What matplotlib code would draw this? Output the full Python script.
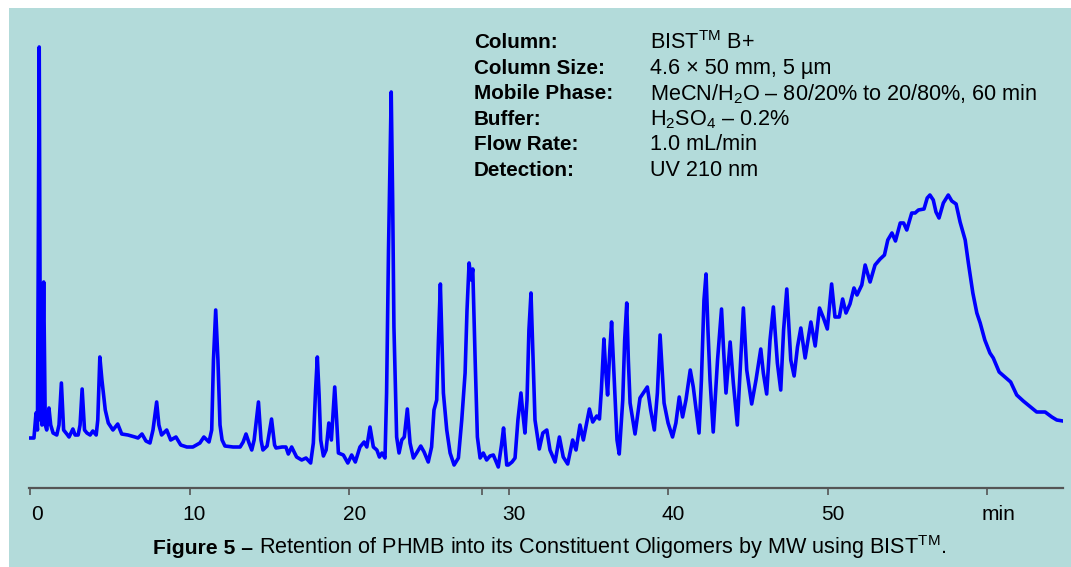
import matplotlib
matplotlib.use("Agg")
import matplotlib.pyplot as plt
from matplotlib.patches import Rectangle
from matplotlib.transforms import ScaledTranslation

plt.rcParams['font.family'] = ['Liberation Sans', 'DejaVu Sans']
plt.rcParams['mathtext.fontset'] = 'custom'
plt.rcParams['mathtext.rm'] = 'Liberation Sans'
plt.rcParams['mathtext.it'] = 'Liberation Sans'
plt.rcParams['mathtext.bf'] = 'Liberation Sans:bold'
plt.rcParams['mathtext.default'] = 'regular'

# ---- data: retention time (min) and detector signal (arbitrary units) ----
time_min = [
    -0.13, 0.25, 0.38, 0.47, 0.58, 0.66, 0.69, 0.75, 0.86, 0.96,
    1.05, 1.19, 1.30, 1.45, 1.68, 1.82, 1.97, 2.11, 2.31, 2.45,
    2.69, 2.83, 3.02, 3.14, 3.27, 3.42, 3.57, 3.77, 3.94, 4.15,
    4.25, 4.38, 4.51, 4.72, 4.91, 5.20, 5.50, 5.75, 6.14, 6.58,
    6.77, 7.02, 7.27, 7.52, 7.71, 7.94, 8.08, 8.25, 8.57, 8.82,
    9.15, 9.45, 9.83, 10.21, 10.65, 10.90, 11.22, 11.39, 11.50, 11.64,
    11.78, 11.91, 12.04, 12.22, 12.73, 13.17, 13.36, 13.54, 13.73, 13.90,
    14.05, 14.32, 14.48, 14.60, 14.86, 15.14, 15.33, 15.42, 15.80, 16.04,
    16.19, 16.40, 16.71, 17.03, 17.30, 17.59, 17.76, 17.90, 18.01, 18.12,
    18.22, 18.39, 18.56, 18.73, 18.89, 19.10, 19.22, 19.33, 19.64, 19.92,
    20.16, 20.39, 20.68, 20.94, 21.11, 21.31, 21.52, 21.74, 21.90, 22.06,
    22.25, 22.35, 22.47, 22.64, 22.73, 22.81, 22.98, 23.13, 23.30, 23.46,
    23.65, 23.82, 24.03, 24.23, 24.49, 24.70, 24.96, 25.17, 25.32, 25.49,
    25.60, 25.72, 25.91, 26.12, 26.33, 26.58, 26.85, 27.06, 27.27, 27.39,
    27.52, 27.65, 27.75, 27.90, 28.04, 28.21, 28.41, 28.62, 28.83, 29.04,
    29.35, 29.55, 29.68, 29.88, 29.98, 30.21, 30.40, 30.58, 30.77, 30.90,
    31.02, 31.15, 31.27, 31.40, 31.53, 31.65, 31.92, 32.14, 32.39, 32.59,
    32.91, 33.18, 33.42, 33.70, 34.01, 34.22, 34.47, 34.68, 35.06, 35.27,
    35.52, 35.69, 35.81, 35.97, 36.08, 36.20, 36.34, 36.45, 36.56, 36.66,
    36.79, 36.93, 37.15, 37.27, 37.40, 37.50, 37.61, 37.92, 38.23, 38.44,
    38.69, 38.90, 39.13, 39.32, 39.49, 39.62, 39.74, 39.99, 40.27, 40.48,
    40.69, 40.90, 41.11, 41.38, 41.57, 41.71, 41.93, 42.08, 42.24, 42.37,
    42.49, 42.62, 42.82, 43.09, 43.34, 43.47, 43.62, 43.88, 44.08, 44.33,
    44.54, 44.71, 44.92, 45.23, 45.50, 45.80, 45.96, 46.17, 46.38, 46.59,
    46.84, 47.05, 47.23, 47.43, 47.68, 47.89, 48.10, 48.31, 48.58, 48.94,
    49.21, 49.48, 49.73, 49.97, 50.24, 50.45, 50.72, 50.93, 51.14, 51.39,
    51.64, 51.83, 52.13, 52.34, 52.65, 52.96, 53.28, 53.55, 53.76, 54.02,
    54.24, 54.54, 54.75, 54.95, 55.26, 55.47, 55.68, 56.03, 56.23, 56.40,
    56.61, 56.78, 56.97, 57.24, 57.55, 57.77, 58.04, 58.29, 58.61, 58.81,
    59.09, 59.34, 59.55, 59.84, 60.16, 60.37, 60.74, 61.10, 61.46, 61.84,
    62.25, 62.78, 63.09, 63.62, 64.04, 64.35, 64.73,
]
signal = [
    50, 50, 75, 58, 441, 68, 95, 63, 206, 63,
    58, 80, 63, 55, 53, 63, 105, 58, 54, 51,
    59, 53, 53, 63, 99, 58, 55, 53, 57, 53,
    68, 131, 108, 78, 65, 58, 64, 54, 53, 51,
    50, 54, 47, 45, 58, 86, 63, 53, 58, 48,
    51, 43, 41, 41, 45, 51, 46, 58, 128, 178,
    128, 63, 48, 42, 41, 41, 46, 54, 45, 38,
    48, 86, 48, 38, 42, 69, 43, 40, 41, 41,
    34, 41, 31, 28, 30, 25, 45, 98, 131, 93,
    48, 32, 38, 65, 48, 101, 68, 35, 33, 25,
    33, 26, 41, 46, 41, 61, 41, 38, 31, 35,
    30, 95, 238, 396, 288, 161, 51, 35, 48, 51,
    79, 45, 30, 35, 42, 36, 26, 41, 78, 88,
    148, 204, 95, 58, 35, 23, 30, 68, 115, 178,
    225, 208, 219, 128, 51, 30, 35, 28, 32, 33,
    21, 43, 60, 23, 23, 26, 30, 68, 95, 73,
    55, 88, 158, 195, 128, 68, 39, 55, 58, 38,
    26, 51, 31, 24, 48, 38, 63, 48, 79, 66,
    72, 69, 98, 149, 118, 93, 138, 166, 128, 95,
    48, 34, 88, 148, 185, 128, 85, 54, 90, 95,
    101, 78, 58, 95, 153, 118, 85, 65, 51, 65,
    91, 71, 88, 118, 101, 83, 55, 108, 188, 214,
    158, 108, 56, 128, 179, 138, 95, 146, 105, 63,
    128, 180, 118, 84, 108, 139, 115, 94, 148, 181,
    125, 98, 158, 199, 128, 112, 141, 160, 130, 166,
    142, 180, 170, 159, 204, 171, 171, 189, 175, 184,
    200, 193, 203, 223, 206, 223, 229, 233, 248, 255,
    247, 265, 265, 258, 275, 275, 278, 279, 290, 293,
    288, 276, 270, 285, 293, 287, 284, 266, 248, 225,
    195, 175, 165, 148, 135, 130, 116, 111, 106, 93,
    87, 80, 76, 76, 71, 68, 67,
]

tick_values = [0, 10, 20, 30, 40, 50, 60]
tick_labels = ["0", "10", "20", "30", "40", "50", "min"]

info_labels = ["Column:", "Column Size:", "Mobile Phase:", "Buffer:", "Flow Rate:", "Detection:"]
info_values = [r"BIST$^{\mathrm{TM}}$ B+", "4.6 × 50 mm, 5 µm",
               r"MeCN/H$_2$O – 80/20% to 20/80%, 60 min", r"H$_2$SO$_4$ – 0.2%",
               "1.0 mL/min", "UV 210 nm"]

caption_bold = "Figure 5 –"
caption_text = r" Retention of PHMB into its Constituent Oligomers by MW using BIST$^{\mathrm{TM}}$."

# ---- figure ----
W, H = 1071, 567
fig = plt.figure(figsize=(W / 100, H / 100), dpi=100)
fig.patch.set_facecolor("white")
fig.patches.append(Rectangle((9 / W, 0), 1 - 9 / W, 1 - 8 / H, transform=fig.transFigure,
                             facecolor="#b3dbda", edgecolor="none", zorder=-10))

ax = fig.add_axes([29 / W, 79 / H, (1063 - 29) / W, 480 / H])
ax.set_facecolor("none")
ax.plot(time_min, signal, color="#0000ff", lw=2.6, solid_joinstyle="round")
ax.set_xlim(-0.06, 64.74)
ax.set_ylim(0, 480)

for s in ["top", "right", "left"]:
    ax.spines[s].set_visible(False)
ax.spines["bottom"].set_color("#555555")
ax.spines["bottom"].set_linewidth(1.6)
ax.set_yticks([])
ax.set_xticks(tick_values)
ax.set_xticks([28.33], minor=True)
ax.set_xticklabels(tick_labels, fontsize=15)
ax.tick_params(axis="x", which="both", direction="out", length=5, width=1.2,
               color="#555555", pad=7)
offsets = [7, 5, 6, 5, 5, 5, 11]
for lab, dx in zip(ax.get_xticklabels(), offsets):
    lab.set_transform(lab.get_transform() + ScaledTranslation(dx / 100, 0, fig.dpi_scale_trans))

# info block
y0 = 1 - 43 / H
dy = 25.4 / H
for i, (lbl, val) in enumerate(zip(info_labels, info_values)):
    fig.text(474 / W, y0 - i * dy, lbl, fontsize=14.9, fontweight="bold", va="center", ha="left")
    fig.text(650 / W, y0 - i * dy, val, fontsize=15.6, va="center", ha="left")

# caption
tb = fig.text(153 / W, 1 - 554 / H, caption_bold, fontsize=15.2, fontweight="bold",
              va="baseline", ha="left")
fig.canvas.draw()
ann = fig.text(0, 0, caption_text, fontsize=15.6)
ann.set_transform(fig.transFigure)
bb = tb.get_window_extent()
ann.set_position((bb.x1 / W, 1 - 554 / H))
ann.set_va("baseline")

fig.savefig("out.png", dpi=100)
